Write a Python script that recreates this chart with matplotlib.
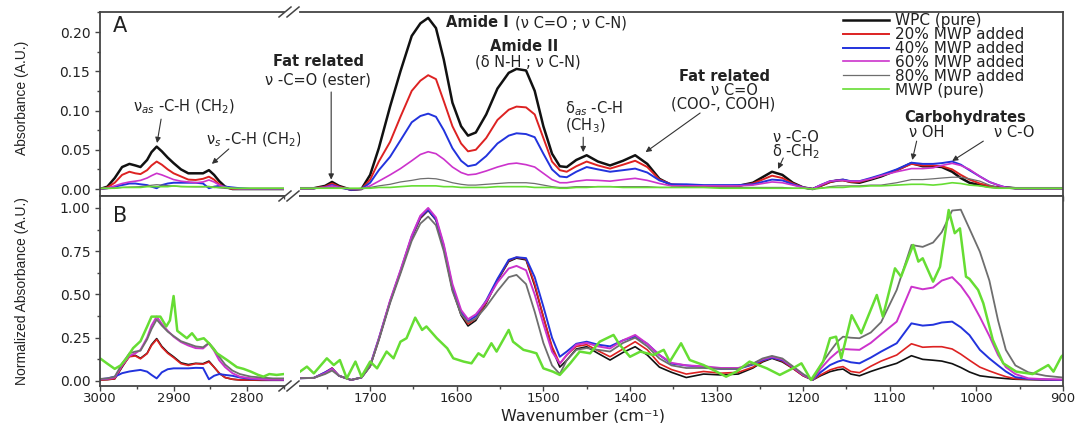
#!/usr/bin/env python3
# -*- coding: utf-8 -*-
import matplotlib
matplotlib.use("Agg")
import matplotlib.pyplot as plt
from matplotlib.lines import Line2D
from matplotlib.ticker import MultipleLocator, FormatStrFormatter

labels = ["WPC (pure)", "20% MWP added", "40% MWP added",
          "60% MWP added", "80% MWP added", "MWP (pure)"]
colors = ["#111111", "#dd2222", "#2233dd", "#cc33cc", "#6e6e6e", "#66dd33"]

# wavenumber grids (cm-1): C-H stretch segment and fingerprint segment
wn_hi = [3000, 2990, 2980, 2970, 2960, 2952, 2945, 2936, 2930, 2923,
         2916, 2908, 2900, 2890, 2880, 2870, 2860, 2852, 2845, 2838,
         2830, 2820, 2810, 2795, 2780, 2765, 2750]
wn_lo = [1780, 1765, 1752, 1744, 1736, 1722, 1710, 1700, 1690, 1677,
         1665, 1652, 1642, 1633, 1624, 1615, 1605, 1595, 1587, 1578,
         1566, 1553, 1540, 1531, 1520, 1510, 1500, 1490, 1481, 1473,
         1462, 1450, 1437, 1423, 1408, 1394, 1380, 1366, 1352, 1335,
         1315, 1295, 1275, 1258, 1247, 1236, 1224, 1212, 1200, 1189,
         1180, 1169, 1160, 1154, 1145, 1135, 1122, 1110, 1092, 1075,
         1062, 1050, 1040, 1028, 1018, 1008, 996, 985, 975, 966,
         955, 940, 920, 900]

# panel A, absorbance
a_hi_wpc = [0.000, 0.003, 0.014, 0.028, 0.032, 0.030, 0.028, 0.037, 0.047, 0.054,
            0.048, 0.040, 0.033, 0.025, 0.020, 0.020, 0.020, 0.024, 0.018, 0.010,
            0.003, 0.000, 0.000, 0.000, 0.000, 0.000, 0.000]
a_hi_20 = [0.000, 0.002, 0.008, 0.018, 0.022, 0.020, 0.019, 0.024, 0.030, 0.035,
           0.031, 0.025, 0.020, 0.016, 0.012, 0.0115, 0.013, 0.0157, 0.012, 0.006,
           0.002, 0.000, 0.000, 0.000, 0.000, 0.000, 0.000]
a_hi_40 = [0.000, 0.001, 0.003, 0.005, 0.007, 0.007, 0.006, 0.005, 0.003, 0.001,
           0.005, 0.007, 0.008, 0.008, 0.008, 0.008, 0.007, 0.001, 0.003, 0.004,
           0.003, 0.002, 0.001, 0.000, 0.000, 0.000, 0.000]
a_hi_60 = [0.000, 0.001, 0.004, 0.007, 0.009, 0.010, 0.011, 0.014, 0.017, 0.020,
           0.018, 0.015, 0.012, 0.010, 0.009, 0.008, 0.009, 0.0115, 0.009, 0.005,
           0.002, 0.001, 0.000, 0.000, 0.000, 0.000, 0.000]
a_hi_80 = [0.000, 0.0005, 0.001, 0.002, 0.0025, 0.0027, 0.003, 0.004, 0.0048, 0.0055,
           0.005, 0.0043, 0.0038, 0.0033, 0.003, 0.0028, 0.0028, 0.0033, 0.0025, 0.0015,
           0.0008, 0.0004, 0.0002, 0.0002, 0.0002, 0.0002, 0.0002]
a_hi_mwp = [0.001, 0.001, 0.001, 0.002, 0.002, 0.002, 0.002, 0.003, 0.003, 0.003,
            0.003, 0.003, 0.004, 0.003, 0.003, 0.003, 0.003, 0.003, 0.002, 0.002,
            0.002, 0.001, 0.001, 0.001, 0.001, 0.001, 0.001]

a_lo_wpc = [0.001, 0.001, 0.004, 0.009, 0.004, -0.001, 0.000, 0.018, 0.052, 0.105,
            0.150, 0.195, 0.211, 0.218, 0.205, 0.165, 0.110, 0.080, 0.068, 0.072,
            0.095, 0.128, 0.148, 0.153, 0.151, 0.125, 0.080, 0.045, 0.029, 0.028,
            0.037, 0.043, 0.035, 0.030, 0.036, 0.043, 0.032, 0.013, 0.005, 0.004,
            0.003, 0.003, 0.004, 0.008, 0.015, 0.022, 0.018, 0.008, 0.002, 0.000,
            0.004, 0.009, 0.011, 0.0115, 0.009, 0.008, 0.012, 0.016, 0.024, 0.033,
            0.029, 0.029, 0.028, 0.022, 0.014, 0.008, 0.005, 0.003, 0.002, 0.002,
            0.001, 0.001, 0.001, 0.001]
a_lo_20 = [0.001, 0.001, 0.003, 0.007, 0.003, -0.001, 0.000, 0.012, 0.035, 0.060,
           0.092, 0.125, 0.138, 0.145, 0.140, 0.112, 0.080, 0.058, 0.048, 0.050,
           0.065, 0.088, 0.101, 0.105, 0.104, 0.095, 0.065, 0.035, 0.024, 0.022,
           0.029, 0.035, 0.030, 0.026, 0.031, 0.036, 0.028, 0.012, 0.006, 0.005,
           0.004, 0.004, 0.004, 0.007, 0.012, 0.017, 0.014, 0.007, 0.002, 0.000,
           0.004, 0.009, 0.011, 0.011, 0.009, 0.009, 0.013, 0.017, 0.024, 0.032,
           0.030, 0.030, 0.029, 0.025, 0.018, 0.012, 0.007, 0.004, 0.002, 0.002,
           0.001, 0.001, 0.001, 0.001]
a_lo_40 = [0.001, 0.001, 0.002, 0.005, 0.002, -0.001, 0.000, 0.008, 0.024, 0.041,
           0.062, 0.085, 0.093, 0.096, 0.092, 0.075, 0.052, 0.036, 0.029, 0.031,
           0.042, 0.058, 0.068, 0.071, 0.070, 0.066, 0.045, 0.025, 0.016, 0.015,
           0.022, 0.028, 0.025, 0.022, 0.024, 0.026, 0.021, 0.011, 0.006, 0.006,
           0.005, 0.005, 0.005, 0.006, 0.009, 0.012, 0.011, 0.006, 0.002, 0.000,
           0.005, 0.010, 0.011, 0.012, 0.010, 0.010, 0.014, 0.018, 0.025, 0.0335,
           0.032, 0.032, 0.033, 0.035, 0.031, 0.024, 0.016, 0.009, 0.005, 0.002,
           0.001, 0.001, 0.001, 0.001]
a_lo_60 = [0.001, 0.001, 0.002, 0.004, 0.002, 0.000, 0.000, 0.004, 0.010, 0.018,
           0.026, 0.036, 0.044, 0.0475, 0.045, 0.038, 0.028, 0.021, 0.018, 0.019,
           0.023, 0.028, 0.032, 0.033, 0.031, 0.028, 0.020, 0.012, 0.008, 0.008,
           0.010, 0.0115, 0.011, 0.010, 0.012, 0.0136, 0.011, 0.007, 0.004, 0.004,
           0.004, 0.004, 0.004, 0.005, 0.007, 0.009, 0.008, 0.005, 0.002, 0.000,
           0.005, 0.010, 0.011, 0.011, 0.010, 0.010, 0.013, 0.017, 0.022, 0.026,
           0.026, 0.027, 0.030, 0.0327, 0.030, 0.025, 0.016, 0.009, 0.005, 0.002,
           0.001, 0.001, 0.001, 0.001]
a_lo_80 = [0.001, 0.001, 0.001, 0.002, 0.001, 0.000, 0.000, 0.002, 0.004, 0.006,
           0.009, 0.011, 0.013, 0.0136, 0.013, 0.011, 0.008, 0.006, 0.005, 0.005,
           0.006, 0.007, 0.008, 0.008, 0.008, 0.007, 0.005, 0.003, 0.002, 0.002,
           0.003, 0.003, 0.003, 0.003, 0.003, 0.003, 0.003, 0.002, 0.002, 0.002,
           0.002, 0.002, 0.002, 0.002, 0.002, 0.002, 0.002, 0.001, 0.001, 0.000,
           0.001, 0.003, 0.004, 0.004, 0.004, 0.004, 0.005, 0.005, 0.008, 0.012,
           0.012, 0.013, 0.014, 0.015, 0.015, 0.013, 0.010, 0.005, 0.002, 0.001,
           0.001, 0.001, 0.001, 0.001]
a_lo_mwp = [0.001, 0.001, 0.001, 0.001, 0.001, 0.001, 0.001, 0.001, 0.002, 0.002,
            0.003, 0.004, 0.004, 0.004, 0.004, 0.003, 0.003, 0.002, 0.002, 0.002,
            0.002, 0.003, 0.003, 0.003, 0.003, 0.002, 0.002, 0.002, 0.001, 0.001,
            0.002, 0.002, 0.003, 0.003, 0.002, 0.002, 0.002, 0.002, 0.002, 0.002,
            0.002, 0.001, 0.001, 0.001, 0.001, 0.001, 0.001, 0.001, 0.001, 0.000,
            0.001, 0.002, 0.002, 0.002, 0.003, 0.003, 0.004, 0.004, 0.005, 0.006,
            0.006, 0.005, 0.006, 0.008, 0.007, 0.005, 0.004, 0.002, 0.001, 0.001,
            0.001, 0.001, 0.001, 0.001]

# panel B, normalized absorbance
b_hi_wpc = [0.006, 0.008, 0.012, 0.080, 0.145, 0.148, 0.131, 0.160, 0.210, 0.245,
            0.200, 0.165, 0.140, 0.105, 0.095, 0.102, 0.100, 0.115, 0.080, 0.045,
            0.020, 0.010, 0.006, 0.005, 0.004, 0.004, 0.004]
b_hi_20 = [0.006, 0.008, 0.013, 0.085, 0.140, 0.145, 0.128, 0.158, 0.205, 0.240,
           0.195, 0.160, 0.135, 0.100, 0.090, 0.100, 0.097, 0.110, 0.080, 0.045,
           0.020, 0.010, 0.006, 0.006, 0.006, 0.006, 0.006]
b_hi_40 = [0.010, 0.015, 0.025, 0.045, 0.055, 0.060, 0.064, 0.054, 0.035, 0.015,
           0.050, 0.068, 0.073, 0.073, 0.073, 0.076, 0.075, 0.010, 0.030, 0.040,
           0.035, 0.030, 0.020, 0.012, 0.010, 0.008, 0.008]
b_hi_60 = [0.010, 0.012, 0.020, 0.090, 0.145, 0.160, 0.180, 0.250, 0.320, 0.372,
           0.330, 0.290, 0.256, 0.225, 0.205, 0.190, 0.188, 0.218, 0.175, 0.120,
           0.080, 0.045, 0.025, 0.015, 0.010, 0.008, 0.008]
b_hi_80 = [0.012, 0.015, 0.025, 0.100, 0.160, 0.170, 0.175, 0.240, 0.300, 0.355,
           0.320, 0.285, 0.260, 0.230, 0.215, 0.200, 0.195, 0.220, 0.185, 0.140,
           0.095, 0.060, 0.040, 0.025, 0.020, 0.015, 0.015]
wn_hi_mwp = [3000, 2990, 2980, 2972, 2964, 2955, 2945, 2936, 2930, 2918,
             2910, 2905, 2900, 2895, 2882, 2875, 2868, 2859, 2852, 2841,
             2827, 2814, 2805, 2795, 2785, 2778, 2770, 2760, 2750]
b_hi_mwp = [0.131, 0.100, 0.070, 0.090, 0.131, 0.190, 0.230, 0.314, 0.372, 0.372,
            0.315, 0.350, 0.491, 0.290, 0.247, 0.276, 0.237, 0.247, 0.218, 0.160,
            0.120, 0.080, 0.070, 0.054, 0.035, 0.025, 0.040, 0.035, 0.040]

b_lo_wpc = [0.016, 0.018, 0.045, 0.073, 0.030, 0.006, 0.020, 0.085, 0.240, 0.458,
            0.630, 0.830, 0.940, 0.985, 0.930, 0.770, 0.530, 0.380, 0.318, 0.350,
            0.450, 0.580, 0.690, 0.710, 0.700, 0.550, 0.370, 0.190, 0.080, 0.120,
            0.185, 0.198, 0.160, 0.121, 0.165, 0.198, 0.150, 0.080, 0.050, 0.020,
            0.040, 0.035, 0.040, 0.075, 0.110, 0.131, 0.110, 0.073, 0.030, 0.006,
            0.030, 0.054, 0.065, 0.069, 0.040, 0.030, 0.055, 0.075, 0.102, 0.146,
            0.125, 0.120, 0.115, 0.100, 0.078, 0.052, 0.030, 0.023, 0.018, 0.014,
            0.010, 0.008, 0.006, 0.005]
b_lo_20 = [0.016, 0.018, 0.050, 0.075, 0.030, 0.006, 0.020, 0.085, 0.240, 0.458,
           0.630, 0.830, 0.945, 0.990, 0.935, 0.770, 0.530, 0.390, 0.330, 0.360,
           0.455, 0.585, 0.695, 0.715, 0.705, 0.560, 0.370, 0.200, 0.100, 0.150,
           0.200, 0.210, 0.175, 0.140, 0.185, 0.227, 0.180, 0.100, 0.066, 0.040,
           0.055, 0.045, 0.050, 0.080, 0.115, 0.135, 0.115, 0.073, 0.030, 0.006,
           0.035, 0.064, 0.078, 0.083, 0.055, 0.048, 0.085, 0.115, 0.150, 0.215,
           0.195, 0.198, 0.198, 0.185, 0.155, 0.120, 0.080, 0.058, 0.040, 0.025,
           0.013, 0.010, 0.008, 0.007]
b_lo_40 = [0.016, 0.018, 0.050, 0.072, 0.030, 0.006, 0.020, 0.090, 0.245, 0.460,
           0.635, 0.835, 0.950, 0.990, 0.935, 0.780, 0.545, 0.400, 0.345, 0.375,
           0.465, 0.590, 0.700, 0.715, 0.710, 0.600, 0.430, 0.250, 0.140, 0.170,
           0.215, 0.227, 0.210, 0.200, 0.235, 0.257, 0.215, 0.150, 0.100, 0.090,
           0.080, 0.070, 0.070, 0.095, 0.120, 0.135, 0.120, 0.080, 0.035, 0.006,
           0.050, 0.092, 0.112, 0.121, 0.108, 0.102, 0.135, 0.170, 0.218, 0.333,
           0.320, 0.325, 0.338, 0.343, 0.310, 0.265, 0.180, 0.130, 0.090, 0.055,
           0.022, 0.012, 0.008, 0.006]
b_lo_60 = [0.016, 0.018, 0.045, 0.070, 0.030, 0.006, 0.020, 0.090, 0.245, 0.465,
           0.640, 0.840, 0.955, 1.000, 0.945, 0.790, 0.560, 0.410, 0.357, 0.385,
           0.460, 0.570, 0.650, 0.665, 0.640, 0.500, 0.330, 0.170, 0.100, 0.150,
           0.210, 0.220, 0.200, 0.188, 0.235, 0.266, 0.215, 0.150, 0.105, 0.090,
           0.085, 0.075, 0.075, 0.100, 0.125, 0.140, 0.125, 0.080, 0.035, 0.006,
           0.070, 0.131, 0.170, 0.185, 0.182, 0.180, 0.220, 0.270, 0.343, 0.545,
           0.530, 0.540, 0.580, 0.600, 0.550, 0.480, 0.370, 0.260, 0.150, 0.080,
           0.040, 0.015, 0.010, 0.008]
b_lo_80 = [0.016, 0.018, 0.040, 0.060, 0.030, 0.006, 0.020, 0.085, 0.235, 0.450,
           0.620, 0.810, 0.910, 0.950, 0.900, 0.750, 0.520, 0.385, 0.340, 0.360,
           0.430, 0.520, 0.600, 0.613, 0.560, 0.400, 0.220, 0.090, 0.040, 0.120,
           0.180, 0.190, 0.180, 0.170, 0.220, 0.250, 0.200, 0.130, 0.090, 0.075,
           0.075, 0.070, 0.070, 0.100, 0.130, 0.145, 0.130, 0.085, 0.040, 0.006,
           0.090, 0.170, 0.230, 0.256, 0.250, 0.247, 0.280, 0.340, 0.526, 0.786,
           0.775, 0.800, 0.860, 0.985, 0.990, 0.880, 0.747, 0.580, 0.350, 0.180,
           0.090, 0.050, 0.030, 0.020]
wn_lo_mwp = [1781, 1773, 1765, 1750, 1742, 1735, 1727, 1717, 1710, 1700,
             1692, 1681, 1673, 1665, 1658, 1648, 1640, 1635, 1623, 1611,
             1604, 1592, 1583, 1575, 1569, 1560, 1554, 1540, 1535, 1523,
             1515, 1508, 1500, 1489, 1481, 1469, 1458, 1446, 1435, 1419,
             1412, 1400, 1388, 1373, 1361, 1354, 1341, 1331, 1315, 1304,
             1289, 1277, 1262, 1242, 1227, 1212, 1202, 1191, 1177, 1169,
             1162, 1156, 1144, 1133, 1115, 1108, 1094, 1087, 1073, 1067,
             1062, 1050, 1042, 1032, 1025, 1019, 1012, 1008, 998, 992,
             981, 969, 954, 935, 917, 911, 902, 900]
b_lo_mwp = [0.054, 0.083, 0.044, 0.131, 0.092, 0.121, 0.015, 0.112, 0.025, 0.112,
            0.073, 0.170, 0.131, 0.227, 0.247, 0.366, 0.295, 0.315, 0.247, 0.189,
            0.131, 0.112, 0.102, 0.160, 0.140, 0.218, 0.170, 0.295, 0.227, 0.180,
            0.170, 0.160, 0.073, 0.054, 0.035, 0.102, 0.170, 0.160, 0.227, 0.266,
            0.210, 0.140, 0.170, 0.150, 0.180, 0.112, 0.218, 0.121, 0.092, 0.064,
            0.025, 0.054, 0.112, 0.073, 0.035, 0.073, 0.102, 0.006, 0.112, 0.247,
            0.256, 0.131, 0.380, 0.276, 0.497, 0.372, 0.651, 0.603, 0.786, 0.690,
            0.709, 0.574, 0.660, 0.988, 0.854, 0.882, 0.603, 0.590, 0.526, 0.449,
            0.237, 0.102, 0.054, 0.040, 0.092, 0.054, 0.140, 0.150]


def main():
    W, H = 1079, 423
    fig = plt.figure(figsize=(W / 100, H / 100), dpi=100)
    plt.rcParams['font.family'] = ['DejaVu Sans']
    plt.rcParams['mathtext.fontset'] = 'dejavusans'
    frame = '#444444'
    ink = '#222222'

    def box(x0, x1, y0, y1):
        return [x0 / W, 1 - y1 / H, (x1 - x0) / W, (y1 - y0) / H]

    ax_a1 = fig.add_axes(box(100, 284, 12, 196))
    ax_a2 = fig.add_axes(box(300, 1063, 12, 196), sharey=ax_a1)
    ax_b1 = fig.add_axes(box(100, 284, 196, 386), sharex=ax_a1)
    ax_b2 = fig.add_axes(box(300, 1063, 196, 386), sharex=ax_a2, sharey=ax_b1)

    a_hi = [a_hi_wpc, a_hi_20, a_hi_40, a_hi_60, a_hi_80, a_hi_mwp]
    a_lo = [a_lo_wpc, a_lo_20, a_lo_40, a_lo_60, a_lo_80, a_lo_mwp]
    b_hi = [b_hi_wpc, b_hi_20, b_hi_40, b_hi_60, b_hi_80, b_hi_mwp]
    b_lo = [b_lo_wpc, b_lo_20, b_lo_40, b_lo_60, b_lo_80, b_lo_mwp]
    lw_a = [1.8, 1.4, 1.4, 1.2, 0.9, 1.2]
    lw_b = [1.2, 1.2, 1.4, 1.4, 1.3, 1.8]

    for i in range(6):
        ax_a1.plot(wn_hi, a_hi[i], color=colors[i], lw=lw_a[i])
        ax_a2.plot(wn_lo, a_lo[i], color=colors[i], lw=lw_a[i], label=labels[i])
        x_hi = wn_hi_mwp if i == 5 else wn_hi
        x_lo = wn_lo_mwp if i == 5 else wn_lo
        ax_b1.plot(x_hi, b_hi[i], color=colors[i], lw=lw_b[i])
        ax_b2.plot(x_lo, b_lo[i], color=colors[i], lw=lw_b[i])

    ax_a1.set_xlim(3000, 2750)
    ax_a2.set_xlim(1781, 900)
    ax_a1.set_ylim(-0.0089, 0.2255)
    ax_b1.set_ylim(-0.029, 1.069)

    for ax in (ax_a1, ax_a2, ax_b1, ax_b2):
        for s in ax.spines.values():
            s.set_color(frame)
            s.set_linewidth(1.3)
        ax.xaxis.set_major_locator(MultipleLocator(100))
        ax.xaxis.set_minor_locator(MultipleLocator(50))
        ax.tick_params(which='both', direction='out', color=frame, width=1.0,
                       labelsize=10, labelcolor=ink, top=False, right=False)
        ax.tick_params(which='major', length=3.5)
        ax.tick_params(which='minor', length=2)
        ax.tick_params(axis='x', pad=1, labelsize=9.5)
    for ax in (ax_a1, ax_b1):
        ax.spines['right'].set_visible(False)
    for ax in (ax_a2, ax_b2):
        ax.spines['left'].set_visible(False)
        ax.tick_params(which='both', left=False, labelleft=False)
    for ax in (ax_a1, ax_a2):
        ax.tick_params(which='both', labelbottom=False)

    ax_a1.yaxis.set_major_locator(MultipleLocator(0.05))
    ax_a1.yaxis.set_minor_locator(MultipleLocator(0.025))
    ax_a1.yaxis.set_major_formatter(FormatStrFormatter('%.2f'))
    ax_b1.yaxis.set_major_locator(MultipleLocator(0.25))
    ax_b1.yaxis.set_minor_locator(MultipleLocator(0.125))
    ax_b1.yaxis.set_major_formatter(FormatStrFormatter('%.2f'))

    # break marks
    for y in (12, 196, 386):
        for x in (285, 293):
            fig.add_artist(Line2D([(x - 6) / W, (x + 6) / W],
                                  [1 - (y + 5) / H, 1 - (y - 5) / H],
                                  color=frame, lw=1.1))

    fig.text(22 / W, 1 - 98 / H, "Absorbance (A.U.)", rotation=90,
             ha='center', va='center', fontsize=10, color=ink,
             family='Liberation Sans')
    fig.text(22 / W, 1 - 291 / H, "Normalized Absorbance (A.U.)", rotation=90,
             ha='center', va='center', fontsize=10, color=ink,
             family='Liberation Sans')
    fig.text(583 / W, 0.0, "Wavenumber (cm⁻¹)", ha='center',
             va='bottom', fontsize=11.5, color=ink)

    ax_a1.text(2973, 0.2076, "A", fontsize=15, ha='center', va='center', color=ink)
    ax_b1.text(2973, 0.954, "B", fontsize=15, ha='center', va='center', color=ink)

    arrow = dict(arrowstyle='-|>', color='#333333', lw=0.8,
                 mutation_scale=8, shrinkA=0, shrinkB=0)
    fs = 10.5

    ax_a1.text(2886, 0.1045, "ν$_{as}$ -C-H (CH$_2$)", fontsize=fs,
               ha='center', va='center', color=ink)
    ax_a1.annotate("", xy=(2922.5, 0.0586), xytext=(2917, 0.089), arrowprops=arrow)
    ax_a1.text(2791, 0.0624, "ν$_s$ -C-H (CH$_2$)", fontsize=fs,
               ha='center', va='center', color=ink, clip_on=False)
    ax_a1.annotate("", xy=(2848, 0.032), xytext=(2825, 0.051), arrowprops=arrow)

    ax_a2.text(1760, 0.162, "Fat related", fontsize=fs, fontweight='bold',
               ha='center', va='center', color=ink)
    ax_a2.text(1760, 0.139, "ν -C=O (ester)", fontsize=fs,
               ha='center', va='center', color=ink)
    ax_a2.annotate("", xy=(1745, 0.012), xytext=(1745, 0.1236), arrowprops=arrow)

    ax_a2.text(1612, 0.2115, "Amide I", fontsize=fs, fontweight='bold',
               ha='left', va='center', color=ink)
    ax_a2.text(1533, 0.2115, "(ν C=O ; ν C-N)", fontsize=fs,
               ha='left', va='center', color=ink)
    ax_a2.text(1522, 0.181, "Amide II", fontsize=fs, fontweight='bold',
               ha='center', va='center', color=ink)
    ax_a2.text(1518, 0.162, "(δ N-H ; ν C-N)", fontsize=fs,
               ha='center', va='center', color=ink)

    ax_a2.text(1442, 0.102, "δ$_{as}$ -C-H", fontsize=fs,
               ha='center', va='center', color=ink)
    ax_a2.text(1452, 0.080, "(CH$_3$)", fontsize=fs,
               ha='center', va='center', color=ink)
    ax_a2.annotate("", xy=(1454, 0.047), xytext=(1454, 0.066), arrowprops=arrow)

    ax_a2.text(1291, 0.1427, "Fat related", fontsize=fs, fontweight='bold',
               ha='center', va='center', color=ink)
    ax_a2.text(1279, 0.125, "ν C=O", fontsize=fs,
               ha='center', va='center', color=ink)
    ax_a2.text(1293, 0.108, "(COO-, COOH)", fontsize=fs,
               ha='center', va='center', color=ink)
    ax_a2.annotate("", xy=(1382, 0.047), xytext=(1319, 0.0968), arrowprops=arrow)

    ax_a2.text(1208, 0.066, "ν -C-O", fontsize=fs,
               ha='center', va='center', color=ink)
    ax_a2.text(1208, 0.047, "δ -CH$_2$", fontsize=fs,
               ha='center', va='center', color=ink)
    ax_a2.annotate("", xy=(1229, 0.0255), xytext=(1223, 0.0395), arrowprops=arrow)

    ax_a2.text(1013, 0.0917, "Carbohydrates", fontsize=fs, fontweight='bold',
               ha='center', va='center', color=ink)
    ax_a2.text(1057, 0.0726, "ν OH", fontsize=fs,
               ha='center', va='center', color=ink)
    ax_a2.text(956, 0.0726, "ν C-O", fontsize=fs,
               ha='center', va='center', color=ink)
    ax_a2.annotate("", xy=(1074, 0.037), xytext=(1069, 0.061), arrowprops=arrow)
    ax_a2.annotate("", xy=(1028, 0.0357), xytext=(992, 0.061), arrowprops=arrow)

    ax_a2.legend(loc='upper left', bbox_to_anchor=(843 / W, 1 - 13 / H),
                 bbox_transform=fig.transFigure, frameon=False, fontsize=11,
                 borderpad=0, borderaxespad=0, handlelength=3.0,
                 handletextpad=0.4, labelspacing=-0.07, labelcolor=ink)

    plt.savefig("out.png", dpi=100)


if __name__ == "__main__":
    main()
